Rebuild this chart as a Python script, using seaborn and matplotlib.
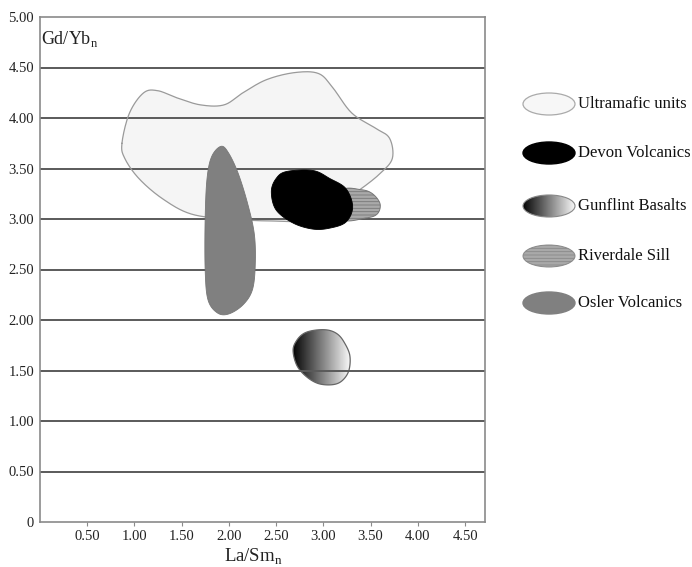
import numpy as np
import matplotlib
matplotlib.use("Agg")
import matplotlib.pyplot as plt
import seaborn as sns
from matplotlib.patches import Polygon, Ellipse

# ---- data (outline vertices, La/Sm_n vs Gd/Yb_n) ----
ultra_x = [0.87, 0.95, 1.10, 1.25, 1.45, 1.70, 1.95, 2.15, 2.40, 2.70, 2.95, 3.10, 3.30, 3.55, 3.70, 3.73, 3.60, 3.40, 3.30, 2.90, 2.50, 2.00, 1.60, 1.30, 1.05, 0.90]
ultra_y = [3.75, 4.05, 4.25, 4.27, 4.20, 4.13, 4.13, 4.25, 4.38, 4.45, 4.44, 4.30, 4.05, 3.90, 3.80, 3.60, 3.45, 3.30, 3.25, 3.00, 2.98, 3.00, 3.05, 3.20, 3.40, 3.60]

osler_x = [1.92, 2.00, 2.10, 2.20, 2.27, 2.28, 2.25, 2.15, 2.00, 1.88, 1.78, 1.75, 1.75, 1.77, 1.82]
osler_y = [3.72, 3.65, 3.45, 3.15, 2.85, 2.55, 2.30, 2.15, 2.06, 2.07, 2.20, 2.50, 3.00, 3.40, 3.62]

devon_x = [2.45, 2.50, 2.61, 2.89, 3.07, 3.24, 3.31, 3.24, 3.07, 2.89, 2.68, 2.50]
devon_y = [3.27, 3.40, 3.47, 3.48, 3.40, 3.30, 3.12, 2.97, 2.91, 2.90, 2.96, 3.09]

river_x = [3.20, 3.40, 3.52, 3.60, 3.57, 3.45, 3.20]
river_y = [3.28, 3.29, 3.25, 3.15, 3.05, 3.01, 3.00]

gunf_x = [2.68, 2.72, 2.80, 2.92, 3.05, 3.15, 3.22, 3.28, 3.27, 3.20, 3.10, 2.95, 2.82, 2.72]
gunf_y = [1.70, 1.80, 1.87, 1.90, 1.90, 1.86, 1.78, 1.65, 1.50, 1.40, 1.36, 1.37, 1.44, 1.55]

legend_labels = ["Ultramafic units", "Devon Volcanics", "Gunflint Basalts", "Riverdale Sill", "Osler Volcanics"]
y_ticks = [0, 0.5, 1.0, 1.5, 2.0, 2.5, 3.0, 3.5, 4.0, 4.5, 5.0]
x_ticks = [0.5, 1.0, 1.5, 2.0, 2.5, 3.0, 3.5, 4.0, 4.5]


def smooth(xs, ys, n=16):
    """Closed Catmull-Rom curve through the outline vertices (rendering only)."""
    P = np.column_stack([xs, ys])
    m = len(P)
    out = []
    for i in range(m):
        p0, p1, p2, p3 = P[(i - 1) % m], P[i], P[(i + 1) % m], P[(i + 2) % m]
        for t in np.linspace(0, 1, n, endpoint=False):
            t2, t3 = t * t, t * t * t
            pt = 0.5 * ((2 * p1) + (-p0 + p2) * t + (2 * p0 - 5 * p1 + 4 * p2 - p3) * t2
                        + (-p0 + 3 * p1 - 3 * p2 + p3) * t3)
            out.append(pt)
    return np.array(out)


sns.set_theme(style="white")
plt.rcParams['font.family'] = ['Liberation Serif', 'DejaVu Serif']
plt.rcParams['hatch.linewidth'] = 0.6

W, H = 692, 567
fig = plt.figure(figsize=(W / 100, H / 100), dpi=100)
ax = fig.add_axes([39.7 / W, 1 - 522 / H, (485 - 39.7) / W, (522 - 17) / H])
ax.set_xlim(0, 4.71)
ax.set_ylim(0, 5.0)

# grid lines
for y in y_ticks[1:-1]:
    ax.axhline(y, color="#5a5a5a", lw=1.4, zorder=1.5)

# ultramafic
u = smooth(ultra_x, ultra_y)
ax.add_patch(Polygon(u, closed=True, facecolor="#f5f5f5", edgecolor="none", zorder=1))
sns.lineplot(x=np.append(u[:, 0], u[0, 0]), y=np.append(u[:, 1], u[0, 1]), sort=False, ax=ax,
             color="#9a9a9a", lw=0.9, zorder=1.6, estimator=None)

# gunflint gradient
g = smooth(gunf_x, gunf_y)
gp = Polygon(g, closed=True, facecolor="none", edgecolor="#666666", lw=0.9, zorder=1.4)
ax.add_patch(gp)
grad = np.linspace(0.02, 0.97, 256).reshape(1, -1)
im = ax.imshow(grad, cmap="gray", vmin=0, vmax=1, aspect="auto",
               extent=[min(gunf_x), max(gunf_x), min(gunf_y), max(gunf_y)],
               zorder=1.3, interpolation="bicubic")
im.set_clip_path(gp)

# osler
o = smooth(osler_x, osler_y)
ax.add_patch(Polygon(o, closed=True, facecolor="#808080", edgecolor="#777777", lw=0.6, zorder=2))

# riverdale
r = smooth(river_x, river_y)
ax.add_patch(Polygon(r, closed=True, facecolor="#a9a9a9", edgecolor="#777777", lw=0.7,
                     hatch="-----", zorder=2))

# devon
d = smooth(devon_x, devon_y)
ax.add_patch(Polygon(d, closed=True, facecolor="black", edgecolor="black", lw=0.6, zorder=3))

# axes styling
for s in ax.spines.values():
    s.set_color("#8a8a8a")
    s.set_linewidth(1.2)
ax.set_yticks(y_ticks)
ax.set_yticklabels(["0" if v == 0 else f"{v:.2f}" for v in y_ticks])
ax.set_xticks(x_ticks)
ax.set_xticklabels([f"{v:.2f}" for v in x_ticks])
ax.tick_params(axis="y", length=0, pad=4, labelsize=10.5, colors="#222222")
ax.tick_params(axis="x", length=3, width=0.8, color="#8a8a8a", pad=3, labelsize=10.5,
               labelcolor="#222222", direction="out", bottom=True)
ax.text(0.002, 0.976, r"Gd/Yb$_\mathregular{n}$", transform=ax.transAxes, fontsize=13,
        ha="left", va="top", color="#222222")
ax.set_xlabel("")
ax.set_ylabel("")
fig.text(253 / W, 1 - 557 / H, r"La/Sm$_\mathregular{n}$", fontsize=13.5, color="#222222",
         ha="center", va="center")

# legend drawn as pixel-space axes
lax = fig.add_axes([0, 0, 1, 1], facecolor="none")
lax.set_xlim(0, W)
lax.set_ylim(H, 0)
lax.axis("off")
centers = [104, 153, 206, 256, 303]
for lbl, cy in zip(legend_labels, centers):
    if lbl == "Ultramafic units":
        lax.add_patch(Ellipse((549, cy), 52, 22, facecolor="#f7f7f7", edgecolor="#aaaaaa", lw=0.9))
    elif lbl == "Devon Volcanics":
        lax.add_patch(Ellipse((549, cy), 52, 22, facecolor="black", edgecolor="black"))
    elif lbl == "Gunflint Basalts":
        e = Ellipse((549, cy), 52, 22, facecolor="none", edgecolor="#888888", lw=0.8)
        lax.add_patch(e)
        gi = lax.imshow(grad, cmap="gray", vmin=0, vmax=1, aspect="auto",
                        extent=[523, 575, cy + 11, cy - 11], interpolation="bicubic")
        gi.set_clip_path(e)
    elif lbl == "Riverdale Sill":
        lax.add_patch(Ellipse((549, cy), 52, 22, facecolor="#a9a9a9", edgecolor="#888888",
                              lw=0.7, hatch="-----"))
    else:
        lax.add_patch(Ellipse((549, cy), 52, 22, facecolor="#808080", edgecolor="#808080"))
    lax.text(578, cy, lbl, fontsize=12, va="center", ha="left", color="#111111")

fig.savefig("out.png", dpi=100)
